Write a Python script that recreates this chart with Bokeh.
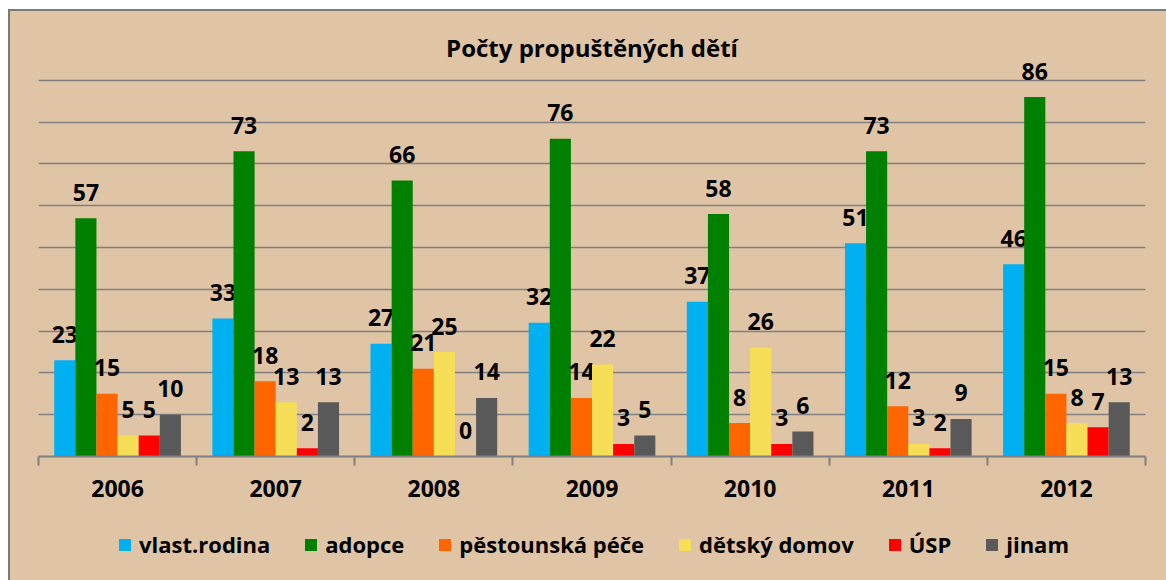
from bokeh.plotting import figure
from bokeh.layouts import column
from bokeh.models import ColumnDataSource, Range1d, FixedTicker, Label
from bokeh.transform import dodge
from bokeh.core.properties import value
from bokeh.embed import file_html
from bokeh.resources import INLINE

# ---- data ----
years = ["2006", "2007", "2008", "2009", "2010", "2011", "2012"]
series_names = ["vlast.rodina", "adopce", "pěstounská péče", "dětský domov", "ÚSP", "jinam"]
vlast_rodina = [23, 33, 27, 32, 37, 51, 46]
adopce = [57, 73, 66, 76, 58, 73, 86]
pestounska_pece = [15, 18, 21, 14, 8, 12, 15]
detsky_domov = [5, 13, 25, 22, 26, 3, 8]
usp = [5, 2, 0, 3, 3, 2, 7]
jinam = [10, 13, 14, 5, 6, 9, 13]
colors = ["#00B0F0", "#008000", "#FF6600", "#F6DE57", "#FF0000", "#595959"]
title_text = "Počty propuštěných dětí"

series = [vlast_rodina, adopce, pestounska_pece, detsky_domov, usp, jinam]
keys = ["s%d" % i for i in range(len(series))]

data = {"x": [i + 0.5 for i in range(len(years))]}
for k, s in zip(keys, series):
    data[k] = s
    data[k + "_t"] = [str(v) for v in s]
source = ColumnDataSource(data)

FONT = "Open Sans"
BG = "#E0C4A6"
GRID = "#808080"
BORDER = "2px solid #7a7a7a"

p = figure(width=1158, height=510, output_backend="svg", toolbar_location=None,
           x_range=Range1d(0, len(years)), y_range=Range1d(0, 100),
           min_border_left=28, min_border_right=23, min_border_top=27, min_border_bottom=65)
p.background_fill_color = None
p.border_fill_color = BG
p.outline_line_color = None
p.outline_line_alpha = 0
p.styles = {"border-left": BORDER, "border-top": BORDER, "box-sizing": "border-box",
            "background-color": BG}

bw = 0.1335
offsets = [(-2.5 + i) * bw for i in range(len(series))]

for k, c, off in zip(keys, colors, offsets):
    p.vbar(x=dodge("x", off), top=k, width=bw, bottom=0, source=source,
           fill_color=c, line_color=None)
    p.text(x=dodge("x", off), y=k, text=k + "_t", source=source,
           text_align="center", text_baseline="middle", y_offset=-26,
           text_font=value(FONT), text_font_style="bold", text_font_size="23px",
           text_color="black")

# grid
p.xgrid.visible = False
p.ygrid.ticker = FixedTicker(ticks=list(range(0, 101, 10)))
p.ygrid.grid_line_color = GRID
p.ygrid.grid_line_width = 1.6
p.yaxis.visible = False

# x axis
ax = p.xaxis[0]
ax.ticker = FixedTicker(ticks=[i + 0.5 for i in range(len(years))],
                        minor_ticks=list(range(len(years) + 1)))
ax.major_label_overrides = {i + 0.5: y for i, y in enumerate(years)}
ax.major_tick_out = 0
ax.major_tick_in = 0
ax.minor_tick_out = 9
ax.minor_tick_in = 0
ax.minor_tick_line_color = GRID
ax.minor_tick_line_width = 2
ax.axis_line_color = GRID
ax.axis_line_width = 2
ax.major_label_text_font = FONT
ax.major_label_text_font_style = "bold"
ax.major_label_text_font_size = "23px"
ax.major_label_text_color = "black"
ax.major_label_standoff = 14

# title inside plot area
p.add_layout(Label(x=len(years) / 2, y=97.8, text=title_text, text_align="center",
                   text_baseline="middle", text_font=FONT, text_font_style="bold",
                   text_font_size="24px", text_color="black"))

# legend strip (its bars lie outside its visible range; only the legend shows)
lg = figure(width=1158, height=61, output_backend="svg", toolbar_location=None,
            x_range=Range1d(0, len(years)), y_range=Range1d(1000, 1001),
            min_border_left=0, min_border_right=0, min_border_top=0, min_border_bottom=0)
lg.background_fill_color = None
lg.border_fill_color = BG
lg.outline_line_color = None
lg.outline_line_alpha = 0
lg.axis.visible = False
lg.grid.visible = False
lg.styles = {"border-left": BORDER, "box-sizing": "border-box", "background-color": BG}
for k, name, c in zip(keys, series_names, colors):
    lg.vbar(x="x", top=k, width=bw, bottom=0, source=source,
            fill_color=c, line_color=None, legend_label=name)
leg = lg.legend[0]
leg.orientation = "horizontal"
leg.location = (79, 21)
leg.glyph_width = 15
leg.glyph_height = 15
leg.label_standoff = 7
leg.spacing = 33
leg.padding = 4
leg.margin = 0
leg.label_text_font = FONT
leg.label_text_font_style = "bold"
leg.label_text_font_size = "22px"
leg.label_text_color = "black"
leg.background_fill_alpha = 0
leg.border_line_color = None

layout = column(p, lg, spacing=0, margin=(9, 0, 0, 8))

open("out.html", "w").write(file_html(layout, INLINE))
